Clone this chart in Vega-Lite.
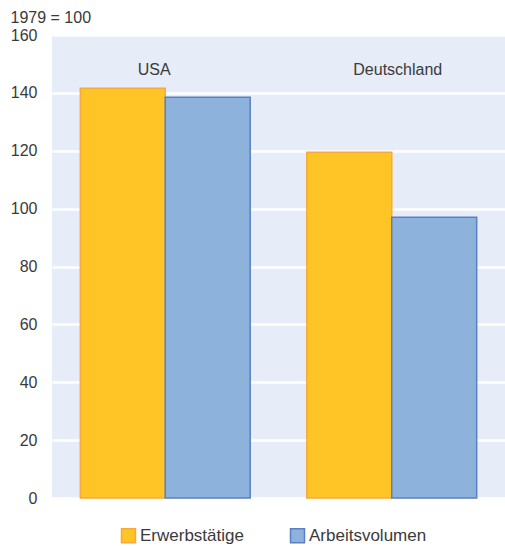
{
  "$schema": "https://vega.github.io/schema/vega-lite/v6.json",
  "autosize": "none",
  "width": 453,
  "height": 463,
  "padding": {"left": 52, "top": 35, "right": 0, "bottom": 48},
  "background": "white",
  "config": {
    "font": "Liberation Sans",
    "view": {"fill": "#E6ECF8", "stroke": null}
  },
  "datasets": {
    "bars": [
      {"Land": "USA", "Reihe": "Erwerbstätige", "Wert": 141.6},
      {"Land": "USA", "Reihe": "Arbeitsvolumen", "Wert": 138.5},
      {"Land": "Deutschland", "Reihe": "Erwerbstätige", "Wert": 119.5},
      {"Land": "Deutschland", "Reihe": "Arbeitsvolumen", "Wert": 97.0}
    ],
    "labels": [
      {"Land": "USA", "Wert": 147.9},
      {"Land": "Deutschland", "Wert": 147.9}
    ]
  },
  "encoding": {
    "x": {
      "field": "Land", "type": "nominal", "sort": ["USA", "Deutschland"],
      "scale": {"paddingInner": 0.25, "paddingOuter": 0.125},
      "axis": null
    },
    "y": {
      "field": "Wert", "type": "quantitative",
      "scale": {"domain": [0, 160], "nice": false},
      "axis": {
        "values": [0, 20, 40, 60, 80, 100, 120, 140, 160],
        "domain": false, "ticks": false,
        "labelFontSize": 16, "labelColor": "#3a3a3a", "labelPadding": 15,
        "gridColor": "white", "gridWidth": 2.5, "gridOpacity": 1,
        "title": "1979 = 100", "titleAngle": 0, "titleX": -42, "titleY": -18,
        "titleAlign": "left", "titleBaseline": "middle",
        "titleFontSize": 16, "titleFontWeight": "normal", "titleColor": "#3a3a3a"
      }
    }
  },
  "layer": [
    {
      "data": {"name": "bars"},
      "mark": {"type": "bar", "strokeWidth": 1.5},
      "encoding": {
        "xOffset": {"field": "Reihe", "type": "nominal", "sort": ["Erwerbstätige", "Arbeitsvolumen"], "scale": {"paddingInner": 0, "paddingOuter": 0}},
        "fill": {
          "field": "Reihe", "type": "nominal", "sort": ["Erwerbstätige", "Arbeitsvolumen"],
          "scale": {"domain": ["Erwerbstätige", "Arbeitsvolumen"], "range": ["#FFC425", "#8DB2DC"]},
          "legend": {
            "title": null, "orient": "none", "direction": "horizontal",
            "legendX": 68, "legendY": 492,
            "symbolType": "square", "symbolSize": 196, "symbolStrokeWidth": 1.5,
            "labelFontSize": 17, "labelColor": "#3a3a3a", "labelOffset": 3,
            "columnPadding": 43
          }
        },
        "stroke": {
          "field": "Reihe", "type": "nominal", "sort": ["Erwerbstätige", "Arbeitsvolumen"],
          "scale": {"domain": ["Erwerbstätige", "Arbeitsvolumen"], "range": ["#F7A93B", "#5A80C2"]},
          "legend": {
            "title": null, "orient": "none", "direction": "horizontal",
            "legendX": 68, "legendY": 492,
            "symbolType": "square", "symbolSize": 196, "symbolStrokeWidth": 1.5,
            "labelFontSize": 17, "labelColor": "#3a3a3a", "labelOffset": 3,
            "columnPadding": 43
          }
        }
      }
    },
    {
      "data": {"name": "labels"},
      "transform": [{"filter": "datum.Land === 'USA'"}],
      "mark": {"type": "text", "fontSize": 16, "color": "#3a3a3a", "dx": -11, "baseline": "middle"},
      "encoding": {"text": {"field": "Land"}}
    },
    {
      "data": {"name": "labels"},
      "transform": [{"filter": "datum.Land === 'Deutschland'"}],
      "mark": {"type": "text", "fontSize": 16, "color": "#3a3a3a", "dx": 6, "baseline": "middle"},
      "encoding": {"text": {"field": "Land"}}
    }
  ]
}
